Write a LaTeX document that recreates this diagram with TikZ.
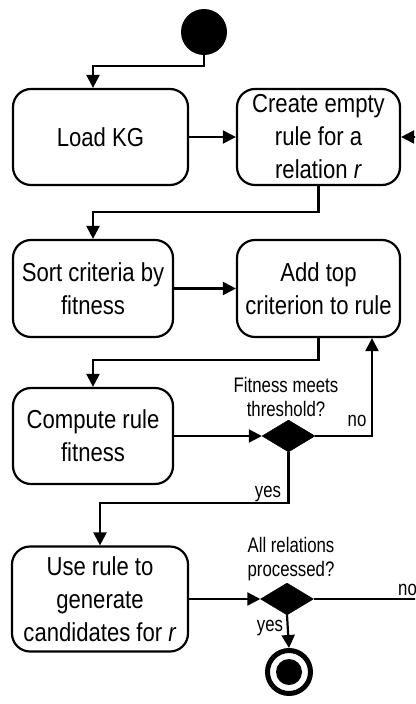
\documentclass[tikz,border=0pt]{standalone}
\usepackage{fontspec}
\setmainfont[FakeStretch=0.85]{Liberation Sans}
\newfontfamily\lblfont[FakeStretch=0.8]{Liberation Sans}
\usetikzlibrary{arrows.meta,shapes.geometric}
\begin{document}
\begin{tikzpicture}[x=1pt,y=-1pt,
  lw/.style={line width=2.2pt},
  act/.style={draw, lw, rounded corners=18pt, align=center, inner sep=0pt,
    font=\fontsize{26}{33}\selectfont},
  flow/.style={lw, -{Triangle[length=13pt,width=13pt]}},
  decision/.style={diamond, fill=black, draw=black, inner sep=0pt,
    minimum width=53pt, minimum height=32pt, aspect=1.66},
  lbl/.style={font=\lblfont\fontsize{21}{24}\selectfont, align=center, inner sep=0pt}]

% canvas
\useasboundingbox (0,0) rectangle (415,704);
\fill[white] (0,0) rectangle (415,704);
\clip (0,0) rectangle (415,704);

% activities
\node[circle, fill=black, minimum size=46pt, inner sep=0pt] (start) at (204,32) {};
\node[act, minimum width=175pt, minimum height=96pt] (load) at (100.5,137) {Load KG};
\node[act, minimum width=163pt, minimum height=96pt] (create) at (318.5,137)
  {Create empty\\rule for a\\relation \textit{r}};
\node[act, minimum width=160pt, minimum height=97pt] (sort) at (93,288.5)
  {Sort criteria by\\fitness};
\node[act, minimum width=163pt, minimum height=97pt] (add) at (318.5,288.5)
  {Add top\\criterion to rule};
\node[act, minimum width=160pt, minimum height=96pt] (compute) at (93,436)
  {Compute rule\\fitness};
\node[decision] (fit) at (288.5,436) {};
\node[act, minimum width=176pt, minimum height=105pt] (use) at (100,599)
  {Use rule to\\generate\\candidates for \textit{r}};
\node[decision] (all) at (287,599) {};
\node[circle, draw, line width=5pt, minimum size=43pt, inner sep=0pt] (stop) at (289,672) {};
\fill (stop.center) circle (13pt);

% bend points
\coordinate (j1) at (93,66);
\coordinate (j2) at (93,212);
\coordinate (j3) at (93,360);
\coordinate (j4) at (372,436);
\coordinate (j5) at (100,503);
\coordinate (j6) at (440,599);
\coordinate (j7) at (440,137);

% control flow
\draw[flow] (start.south) |- (j1) -- (j1 |- load.north);
\draw[flow] (load.east) -- (create.west);
\draw[flow] (create.south) |- (j2) -- (j2 |- sort.north);
\draw[flow] (sort.east) -- (add.west);
\draw[flow] (add.south) |- (j3) -- (j3 |- compute.north);
\draw[flow] (compute.east) -- (fit.west);
\draw[flow] (fit.east) -- (j4) -- (j4 |- add.south);
\draw[flow] (fit.south) |- (j5) -- (j5 |- use.north);
\draw[flow] (use.east) -- (all.west);
\draw[flow] (all.east) -- (j6) -- (j7) -- (create.east);
\draw[flow] (all.south) -- (stop.north);

% guards
\node[lbl, anchor=north] (q1) at (286,377) {Fitness meets\\threshold?};
\node[lbl] (no1) at (357,421) {no};
\node[lbl, anchor=base] (yes1) at (268,497) {yes};
\node[lbl, anchor=north] (q2) at (291,537) {All relations\\processed?};
\node[lbl, anchor=base] (yes2) at (270,631) {yes};
\node[lbl, anchor=base west] (no2) at (398,595) {no};
\end{tikzpicture}
\end{document}
